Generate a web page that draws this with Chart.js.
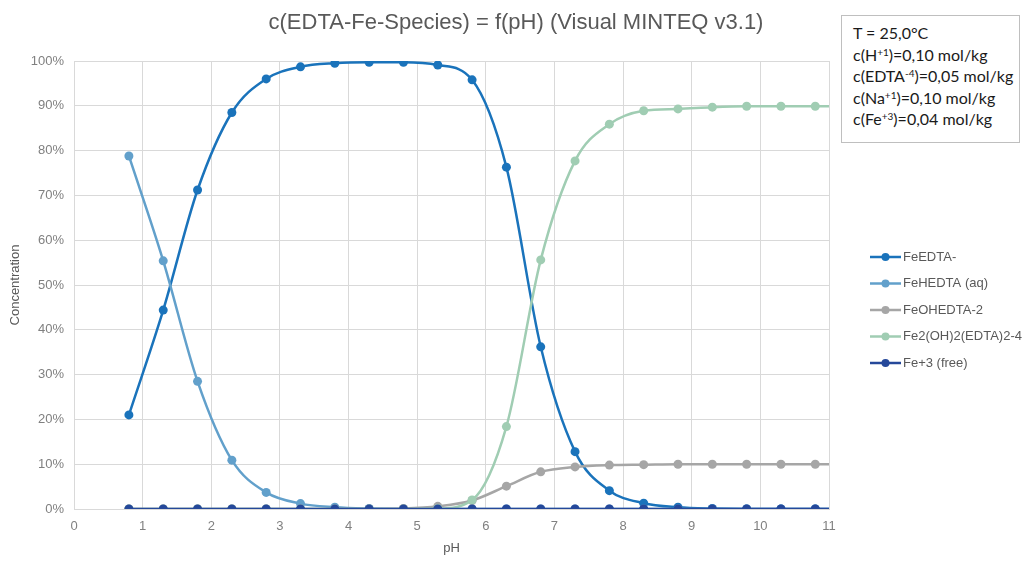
<!DOCTYPE html>
<html>
<head>
<meta charset="utf-8">
<script src="https://cdn.jsdelivr.net/npm/chart.js@4.4.1/dist/chart.umd.min.js"></script>
<style>
  html, body { margin: 0; padding: 0; background: #ffffff; }
  #wrap { position: relative; width: 1025px; height: 561px; }
  #title {
    position: absolute; left: 0; width: 1032px; top: 8px; text-align: center;
    font-family: "Liberation Sans", Arial, sans-serif; font-size: 22px; line-height: 28px; color: #595959;
  }
  #info {
    position: absolute; left: 841px; top: 15px; width: 166px; height: 114px;
    border: 1px solid #bfbfbf; padding: 6px 0 6px 11px;
    font-family: "Lato", "Open Sans", sans-serif; font-size: 16px; line-height: 21.5px; color: #1a1a1a;
    background: #fff;
  }
  #info sup { font-size: 10px; line-height: 0; vertical-align: 5px; }
</style>
</head>
<body>
<div id="wrap">
  <canvas id="chart" width="1025" height="561"></canvas>
  <div id="title">c(EDTA-Fe-Species) = f(pH) (Visual MINTEQ v3.1)</div>
  <div id="info">
    T = 25,0°C<br>
    c(H<sup>+1</sup>)=0,10 mol/kg<br>
    c(EDTA<sup>-4</sup>)=0,05 mol/kg<br>
    c(Na<sup>+1</sup>)=0,10 mol/kg<br>
    c(Fe<sup>+3</sup>)=0,04 mol/kg
  </div>
</div>
<script>
// pH grid of the Visual MINTEQ sweep (last point: line end without marker)
const pH = [0.8, 1.3, 1.8, 2.3, 2.8, 3.3, 3.8, 4.3, 4.8, 5.3, 5.8, 6.3, 6.8, 7.3, 7.8, 8.3, 8.8, 9.3, 9.8, 10.3, 10.8, 11.0];

// species share in % of total Fe
const feEDTA   = [21.0, 44.4, 71.2, 88.5, 96.0, 98.7, 99.5, 99.7, 99.7, 99.1, 95.8, 76.3, 36.2, 12.8, 4.1, 1.3, 0.4, 0.1, 0, 0, 0, 0];
const feHEDTA  = [78.8, 55.4, 28.5, 10.9, 3.7, 1.2, 0.4, 0.1, 0, 0, 0, 0, 0, 0, 0, 0, 0, 0, 0, 0, 0, 0];
const feOHEDTA = [0, 0, 0, 0, 0, 0, 0, 0, 0.1, 0.6, 1.9, 5.1, 8.3, 9.4, 9.8, 9.9, 10.0, 10.0, 10.0, 10.0, 10.0, 10.0];
const fe2OH2   = [0, 0, 0, 0, 0, 0, 0, 0, 0, 0.1, 2.0, 18.4, 55.6, 77.7, 85.9, 88.9, 89.3, 89.7, 89.9, 89.9, 89.9, 89.9];
const fe3free  = [0, 0, 0, 0, 0, 0, 0, 0, 0, 0, 0, 0, 0, 0, 0, 0, 0, 0, 0, 0, 0, 0];

const seriesNames  = ["FeEDTA-", "FeHEDTA (aq)", "FeOHEDTA-2", "Fe2(OH)2(EDTA)2-4", "Fe+3 (free)"];
const seriesValues = [feEDTA, feHEDTA, feOHEDTA, fe2OH2, fe3free];
const seriesColors = ["#1a73bb", "#62a0cb", "#a6a6a6", "#a0cdb3", "#25489a"];

const xTicks = [0, 1, 2, 3, 4, 5, 6, 7, 8, 9, 10, 11];
const yTicks = [0, 10, 20, 30, 40, 50, 60, 70, 80, 90, 100];

const FONT = "'Liberation Sans', Arial, sans-serif";

function toPoints(values) {
    return values.map((v, i) => ({ x: pH[i], y: v }));
}

const datasets = seriesNames.map((name, i) => ({
    label: name,
    data: toPoints(seriesValues[i]),
    borderColor: seriesColors[i],
    backgroundColor: seriesColors[i],
    borderWidth: 2.5,
    pointRadius: (ctx) => (ctx.dataIndex === pH.length - 1 ? 0 : 4.5),
    pointHoverRadius: 4.5,
    pointBorderWidth: 0,
    cubicInterpolationMode: "monotone",
    fill: false,
    // later series sit on top, like the spreadsheet
    order: seriesNames.length - i,
}));

// legend drawn as line + dot, stacked at the right side
const sideLegend = {
    id: "sideLegend",
    afterDraw(chart) {
        const ctx = chart.ctx;
        const x0 = 870, x1 = 901, rowTop = 257, rowGap = 26.5;
        ctx.save();
        ctx.font = "13px " + FONT;
        ctx.textBaseline = "middle";
        seriesNames.forEach((name, i) => {
            const y = rowTop + i * rowGap;
            ctx.strokeStyle = seriesColors[i];
            ctx.lineWidth = 2.5;
            ctx.beginPath();
            ctx.moveTo(x0, y);
            ctx.lineTo(x1, y);
            ctx.stroke();
            ctx.fillStyle = seriesColors[i];
            ctx.beginPath();
            ctx.arc((x0 + x1) / 2, y, 4, 0, Math.PI * 2);
            ctx.fill();
            ctx.fillStyle = "#595959";
            ctx.fillText(name, x1 + 2, y);
        });
        ctx.restore();
    },
};

new Chart(document.getElementById("chart").getContext("2d"), {
    type: "line",
    data: { datasets: datasets },
    options: {
        responsive: false,
        animation: false,
        layout: { padding: { left: 0, right: 196, top: 61, bottom: 0 } },
        plugins: {
            legend: { display: false },
            tooltip: { enabled: false },
            title: { display: false },
        },
        scales: {
            x: {
                type: "linear",
                min: 0,
                max: 11,
                afterBuildTicks: (scale) => { scale.ticks = xTicks.map((v) => ({ value: v })); },
                afterFit: (scale) => { scale.height = 52; },
                grid: { color: "#d9d9d9", lineWidth: 1, drawTicks: false },
                border: { color: "#d9d9d9" },
                ticks: { color: "#808080", padding: 10, font: { family: FONT, size: 13 } },
                title: {
                    display: true,
                    text: "pH",
                    color: "#595959",
                    font: { family: FONT, size: 13 },
                    padding: { top: 0, bottom: 5 },
                },
            },
            y: {
                min: 0,
                max: 100,
                afterBuildTicks: (scale) => { scale.ticks = yTicks.map((v) => ({ value: v })); },
                afterFit: (scale) => { scale.width = 74; },
                grid: { color: "#d9d9d9", lineWidth: 1, drawTicks: false },
                border: { color: "#d9d9d9" },
                ticks: {
                    color: "#808080",
                    padding: 10,
                    font: { family: FONT, size: 13 },
                    callback: (v) => v + "%",
                },
                title: {
                    display: true,
                    text: "Concentration",
                    color: "#595959",
                    font: { family: FONT, size: 13 },
                    padding: { top: 8, bottom: 0 },
                },
            },
        },
    },
    plugins: [sideLegend],
});
</script>
</body>
</html>
